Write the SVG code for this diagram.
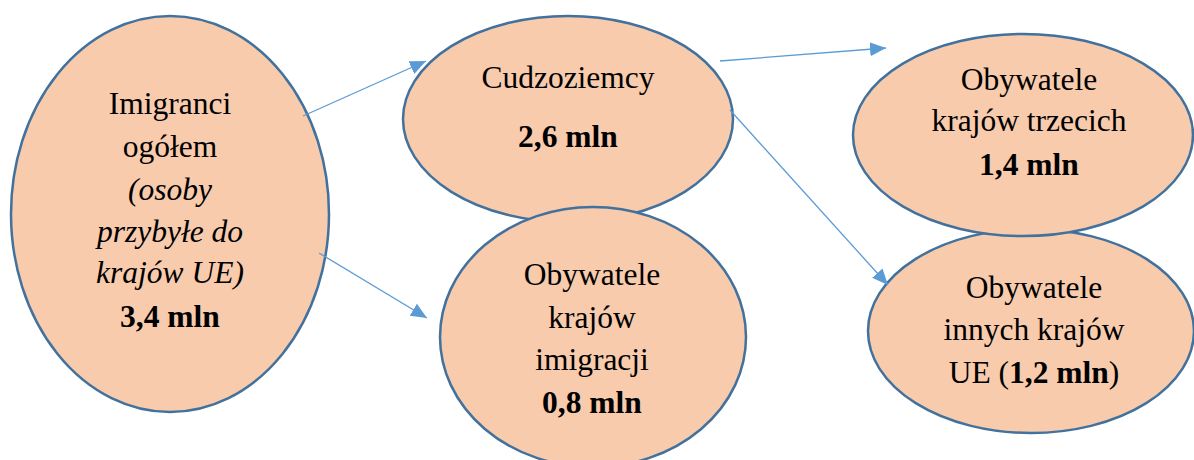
<svg xmlns="http://www.w3.org/2000/svg" width="1194" height="460" viewBox="0 0 1194 460">
<defs>
<style>
.node ellipse{fill:#f8cbad;stroke:#41719c;stroke-width:2.5}
text{font-family:'Liberation Serif','Times New Roman','DejaVu Serif',serif;font-size:31.5px;fill:#000;text-anchor:middle}
.b{font-weight:bold}
.i{font-style:italic}
.conn line{stroke:#5b9bd5;stroke-width:1.3;fill:none;marker-end:url(#arr)}
</style>
<marker id="arr" markerUnits="userSpaceOnUse" markerWidth="17" markerHeight="15" refX="16" refY="7" orient="auto">
<path d="M0,0 L16,7 L0,14 z" fill="#5b9bd5"/>
</marker>
</defs>
<rect width="1194" height="460" fill="#fff"/>
<g id="imigranci" class="node">
<ellipse cx="170" cy="214" rx="159" ry="198"/>
<text x="170" y="114">Imigranci</text>
<text x="170" y="157">ogółem</text>
<text x="170" y="200" class="i">(osoby</text>
<text x="170" y="242" class="i">przybyłe do</text>
<text x="170" y="283" class="i">krajów UE)</text>
<text x="170" y="327" class="b">3,4 mln</text>
</g>
<g id="cudzoziemcy" class="node">
<ellipse cx="568" cy="119" rx="165" ry="103"/>
<text x="568" y="88">Cudzoziemcy</text>
<text x="568" y="147" class="b">2,6 mln</text>
</g>
<g id="imigracji" class="node">
<ellipse cx="593" cy="337" rx="153" ry="130"/>
<text x="592" y="285">Obywatele</text>
<text x="592" y="328">krajów</text>
<text x="592" y="370">imigracji</text>
<text x="592" y="413" class="b">0,8 mln</text>
</g>
<g id="innych-ue" class="node">
<ellipse cx="1031" cy="331" rx="163" ry="102"/>
<text x="1034" y="298">Obywatele</text>
<text x="1034" y="340">innych krajów</text>
<text x="1034" y="383">UE (<tspan class="b">1,2 mln</tspan>)</text>
</g>
<g id="trzecich" class="node">
<ellipse cx="1023" cy="135" rx="170" ry="101"/>
<text x="1029" y="90">Obywatele</text>
<text x="1029" y="131">krajów trzecich</text>
<text x="1029" y="175" class="b">1,4 mln</text>
</g>
<g id="connectors" class="conn">
<line x1="303" y1="116" x2="426" y2="61"/>
<line x1="319" y1="253" x2="427" y2="318"/>
<line x1="720" y1="61" x2="886" y2="48"/>
<line x1="730" y1="110" x2="888" y2="285"/>
</g>
</svg>
